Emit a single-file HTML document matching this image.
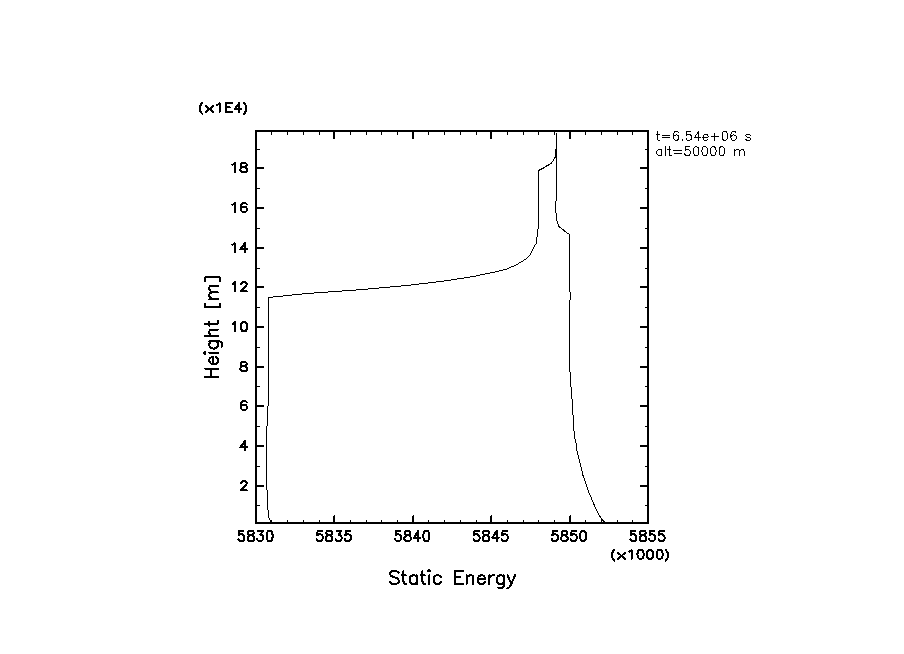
<!DOCTYPE html>
<html><head><meta charset="utf-8"><style>
html,body{margin:0;padding:0;background:#fff;width:904px;height:654px;overflow:hidden;font-family:"Liberation Sans",sans-serif;}
svg{display:block}
</style></head><body>
<svg width="904" height="654" viewBox="0 0 904 654">
<rect width="904" height="654" fill="#fff"/>
<g fill="#000"><rect x="255" y="130" width="394" height="2"/><rect x="255" y="522" width="394" height="2"/><rect x="255" y="130" width="2" height="394"/><rect x="647" y="130" width="2" height="394"/><rect x="271" y="520" width="1" height="2"/><rect x="271" y="132" width="1" height="3"/><rect x="287" y="520" width="1" height="2"/><rect x="287" y="132" width="1" height="3"/><rect x="303" y="520" width="1" height="2"/><rect x="303" y="132" width="1" height="3"/><rect x="319" y="520" width="1" height="2"/><rect x="319" y="132" width="1" height="3"/><rect x="333" y="516" width="1" height="6"/><rect x="334" y="515" width="1" height="7"/><rect x="333" y="132" width="2" height="7"/><rect x="350" y="520" width="1" height="2"/><rect x="350" y="132" width="1" height="3"/><rect x="366" y="520" width="1" height="2"/><rect x="366" y="132" width="1" height="3"/><rect x="381" y="520" width="1" height="2"/><rect x="381" y="132" width="1" height="3"/><rect x="397" y="520" width="1" height="2"/><rect x="397" y="132" width="1" height="3"/><rect x="412" y="516" width="1" height="6"/><rect x="413" y="515" width="1" height="7"/><rect x="412" y="132" width="2" height="7"/><rect x="428" y="520" width="1" height="2"/><rect x="428" y="132" width="1" height="3"/><rect x="444" y="520" width="1" height="2"/><rect x="444" y="132" width="1" height="3"/><rect x="460" y="520" width="1" height="2"/><rect x="460" y="132" width="1" height="3"/><rect x="476" y="520" width="1" height="2"/><rect x="476" y="132" width="1" height="3"/><rect x="490" y="516" width="1" height="6"/><rect x="491" y="515" width="1" height="7"/><rect x="490" y="132" width="2" height="7"/><rect x="507" y="520" width="1" height="2"/><rect x="507" y="132" width="1" height="3"/><rect x="523" y="520" width="1" height="2"/><rect x="523" y="132" width="1" height="3"/><rect x="538" y="520" width="1" height="2"/><rect x="538" y="132" width="1" height="3"/><rect x="554" y="520" width="1" height="2"/><rect x="554" y="132" width="1" height="3"/><rect x="569" y="516" width="1" height="6"/><rect x="570" y="515" width="1" height="7"/><rect x="569" y="132" width="2" height="7"/><rect x="585" y="520" width="1" height="2"/><rect x="585" y="132" width="1" height="3"/><rect x="601" y="520" width="1" height="2"/><rect x="601" y="132" width="1" height="3"/><rect x="617" y="520" width="1" height="2"/><rect x="617" y="132" width="1" height="3"/><rect x="632" y="520" width="1" height="2"/><rect x="632" y="132" width="1" height="3"/><rect x="257" y="167" width="7" height="2"/><rect x="640" y="167" width="7" height="2"/><rect x="257" y="207" width="7" height="2"/><rect x="640" y="207" width="7" height="2"/><rect x="257" y="247" width="7" height="2"/><rect x="640" y="247" width="7" height="2"/><rect x="257" y="286" width="7" height="2"/><rect x="640" y="286" width="7" height="2"/><rect x="257" y="326" width="7" height="2"/><rect x="640" y="326" width="7" height="2"/><rect x="257" y="366" width="7" height="2"/><rect x="640" y="366" width="7" height="2"/><rect x="257" y="405" width="7" height="2"/><rect x="640" y="405" width="7" height="2"/><rect x="257" y="445" width="7" height="2"/><rect x="640" y="445" width="7" height="2"/><rect x="257" y="485" width="7" height="2"/><rect x="640" y="485" width="7" height="2"/><rect x="257" y="149" width="3" height="1"/><rect x="645" y="149" width="2" height="1"/><rect x="257" y="188" width="3" height="1"/><rect x="645" y="188" width="2" height="1"/><rect x="257" y="228" width="3" height="1"/><rect x="645" y="228" width="2" height="1"/><rect x="257" y="268" width="3" height="1"/><rect x="645" y="268" width="2" height="1"/><rect x="257" y="307" width="3" height="1"/><rect x="645" y="307" width="2" height="1"/><rect x="257" y="347" width="3" height="1"/><rect x="645" y="347" width="2" height="1"/><rect x="257" y="386" width="3" height="1"/><rect x="645" y="386" width="2" height="1"/><rect x="257" y="426" width="3" height="1"/><rect x="645" y="426" width="2" height="1"/><rect x="257" y="466" width="3" height="1"/><rect x="645" y="466" width="2" height="1"/><rect x="257" y="505" width="3" height="1"/><rect x="645" y="505" width="2" height="1"/></g>
<g shape-rendering="crispEdges"><polyline points="270.50,521.50 270.50,520.50 269.50,519.50 269.50,518.50 268.50,517.50 268.50,510.50 267.50,509.50 267.50,490.50 266.50,489.50 266.50,426.50 267.50,425.50 267.50,406.50 268.50,405.50 268.50,297.50 272.50,297.50 273.50,296.50 282.50,296.50 283.50,295.50 291.50,295.50 292.50,294.50 301.50,294.50 302.50,293.50 313.50,293.50 314.50,292.50 327.50,292.50 328.50,291.50 341.50,291.50 342.50,290.50 355.50,290.50 356.50,289.50 367.50,289.50 368.50,288.50 378.50,288.50 379.50,287.50 389.50,287.50 390.50,286.50 400.50,286.50 401.50,285.50 410.50,285.50 411.50,284.50 418.50,284.50 419.50,283.50 427.50,283.50 428.50,282.50 435.50,282.50 436.50,281.50 443.50,281.50 444.50,280.50 450.50,280.50 451.50,279.50 456.50,279.50 457.50,278.50 463.50,278.50 464.50,277.50 469.50,277.50 470.50,276.50 475.50,276.50 476.50,275.50 479.50,275.50 480.50,274.50 484.50,274.50 485.50,273.50 489.50,273.50 490.50,272.50 494.50,272.50 495.50,271.50 498.50,271.50 499.50,270.50 502.50,270.50 503.50,269.50 506.50,269.50 507.50,268.50 508.50,268.50 509.50,267.50 510.50,267.50 511.50,266.50 513.50,266.50 514.50,265.50 515.50,265.50 516.50,264.50 517.50,264.50 518.50,263.50 519.50,262.50 520.50,262.50 521.50,261.50 522.50,261.50 523.50,260.50 524.50,259.50 525.50,259.50 526.50,258.50 527.50,257.50 528.50,256.50 529.50,255.50 530.50,254.50 530.50,253.50 531.50,252.50 531.50,251.50 532.50,250.50 532.50,249.50 533.50,248.50 533.50,247.50 534.50,246.50 534.50,245.50 535.50,244.50 536.50,243.50 536.50,237.50 537.50,236.50 537.50,229.50 538.50,228.50 538.50,170.50 540.50,169.50 542.50,168.50 544.50,167.50 546.50,166.00 549.50,164.50 551.50,163.00 552.50,161.50 553.50,160.00 554.50,158.50 555.50,156.50 555.50,149.50 556.50,148.50" fill="none" stroke="#000" stroke-width="1"/><polyline points="556.50,132.50 556.50,200.50 555.50,201.50 555.50,212.50 556.50,213.50 556.50,220.50 557.50,221.50 557.50,223.50 558.50,224.50 558.50,226.50 560.50,227.50 563.50,230.00 567.50,233.50 568.50,233.50 569.50,234.50 569.50,291.50 570.50,292.50 570.50,299.50 569.50,300.50 569.50,371.50 570.50,372.50 570.50,386.50 571.50,387.50 571.50,398.50 572.50,399.50 572.50,414.50 573.50,415.50 573.50,430.50 574.50,431.50 574.50,438.50 575.50,439.50 575.50,442.50 576.50,443.50 576.50,450.50 577.50,451.50 577.50,454.50 578.50,455.50 578.50,458.50 579.50,459.50 579.50,462.50 580.50,463.50 580.50,466.50 581.50,467.50 581.50,470.50 582.50,471.50 582.50,474.50 583.80,477.20 585.90,483.90 588.40,491.50 591.80,499.10 595.20,507.50 599.00,515.00 602.50,520.10 604.80,522.20" fill="none" stroke="#000" stroke-width="1"/></g>
<g fill="none" stroke="#000" stroke-linecap="round" stroke-linejoin="round" shape-rendering="crispEdges"><path d="M243.59 530.89 L239.21 530.89 L238.78 535.27 L239.21 534.78 L240.53 534.30 L241.84 534.30 L243.15 534.78 L244.02 535.75 L244.46 537.21 L244.46 538.18 L244.02 539.64 L243.15 540.61 L241.84 541.10 L240.53 541.10 L239.21 540.61 L238.78 540.13 L238.34 539.16 M249.86 530.89 L248.45 531.38 L247.98 532.35 L247.98 533.32 L248.45 534.30 L249.39 534.78 L251.27 535.27 L252.68 535.75 L253.62 536.73 L254.09 537.70 L254.09 539.16 L253.62 540.13 L253.15 540.61 L251.74 541.10 L249.86 541.10 L248.45 540.61 L247.98 540.13 L247.51 539.16 L247.51 537.70 L247.98 536.73 L248.92 535.75 L250.33 535.27 L252.21 534.78 L253.15 534.30 L253.62 533.32 L253.62 532.35 L253.15 531.38 L251.74 530.89 L249.86 530.89 M258.01 530.89 L262.82 530.89 L260.20 534.78 L261.51 534.78 L262.39 535.27 L262.82 535.75 L263.26 537.21 L263.26 538.18 L262.82 539.64 L261.95 540.61 L260.64 541.10 L259.33 541.10 L258.01 540.61 L257.58 540.13 L257.14 539.16 M269.16 530.89 L267.85 531.38 L266.98 532.84 L266.54 535.27 L266.54 536.73 L266.98 539.16 L267.85 540.61 L269.16 541.10 L270.04 541.10 L271.35 540.61 L272.22 539.16 L272.66 536.73 L272.66 535.27 L272.22 532.84 L271.35 531.38 L270.04 530.89 L269.16 530.89" stroke-width="2"/><path d="M321.99 530.89 L317.61 530.89 L317.18 535.27 L317.61 534.78 L318.93 534.30 L320.24 534.30 L321.55 534.78 L322.42 535.75 L322.86 537.21 L322.86 538.18 L322.42 539.64 L321.55 540.61 L320.24 541.10 L318.93 541.10 L317.61 540.61 L317.18 540.13 L316.74 539.16 M328.26 530.89 L326.85 531.38 L326.38 532.35 L326.38 533.32 L326.85 534.30 L327.79 534.78 L329.67 535.27 L331.08 535.75 L332.02 536.73 L332.49 537.70 L332.49 539.16 L332.02 540.13 L331.55 540.61 L330.14 541.10 L328.26 541.10 L326.85 540.61 L326.38 540.13 L325.91 539.16 L325.91 537.70 L326.38 536.73 L327.32 535.75 L328.73 535.27 L330.61 534.78 L331.55 534.30 L332.02 533.32 L332.02 532.35 L331.55 531.38 L330.14 530.89 L328.26 530.89 M336.41 530.89 L341.22 530.89 L338.60 534.78 L339.91 534.78 L340.79 535.27 L341.22 535.75 L341.66 537.21 L341.66 538.18 L341.22 539.64 L340.35 540.61 L339.04 541.10 L337.73 541.10 L336.41 540.61 L335.98 540.13 L335.54 539.16 M350.19 530.89 L345.81 530.89 L345.38 535.27 L345.81 534.78 L347.13 534.30 L348.44 534.30 L349.75 534.78 L350.62 535.75 L351.06 537.21 L351.06 538.18 L350.62 539.64 L349.75 540.61 L348.44 541.10 L347.13 541.10 L345.81 540.61 L345.38 540.13 L344.94 539.16" stroke-width="2"/><path d="M400.39 530.89 L396.01 530.89 L395.58 535.27 L396.01 534.78 L397.33 534.30 L398.64 534.30 L399.95 534.78 L400.82 535.75 L401.26 537.21 L401.26 538.18 L400.82 539.64 L399.95 540.61 L398.64 541.10 L397.33 541.10 L396.01 540.61 L395.58 540.13 L395.14 539.16 M406.66 530.89 L405.25 531.38 L404.78 532.35 L404.78 533.32 L405.25 534.30 L406.19 534.78 L408.07 535.27 L409.48 535.75 L410.42 536.73 L410.89 537.70 L410.89 539.16 L410.42 540.13 L409.95 540.61 L408.54 541.10 L406.66 541.10 L405.25 540.61 L404.78 540.13 L404.31 539.16 L404.31 537.70 L404.78 536.73 L405.72 535.75 L407.13 535.27 L409.01 534.78 L409.95 534.30 L410.42 533.32 L410.42 532.35 L409.95 531.38 L408.54 530.89 L406.66 530.89 M418.31 530.89 L413.94 537.70 L420.50 537.70 M418.31 530.89 L418.31 541.10 M425.96 530.89 L424.65 531.38 L423.78 532.84 L423.34 535.27 L423.34 536.73 L423.78 539.16 L424.65 540.61 L425.96 541.10 L426.84 541.10 L428.15 540.61 L429.02 539.16 L429.46 536.73 L429.46 535.27 L429.02 532.84 L428.15 531.38 L426.84 530.89 L425.96 530.89" stroke-width="2"/><path d="M478.79 530.89 L474.41 530.89 L473.98 535.27 L474.41 534.78 L475.73 534.30 L477.04 534.30 L478.35 534.78 L479.22 535.75 L479.66 537.21 L479.66 538.18 L479.22 539.64 L478.35 540.61 L477.04 541.10 L475.73 541.10 L474.41 540.61 L473.98 540.13 L473.54 539.16 M485.06 530.89 L483.65 531.38 L483.18 532.35 L483.18 533.32 L483.65 534.30 L484.59 534.78 L486.47 535.27 L487.88 535.75 L488.82 536.73 L489.29 537.70 L489.29 539.16 L488.82 540.13 L488.35 540.61 L486.94 541.10 L485.06 541.10 L483.65 540.61 L483.18 540.13 L482.71 539.16 L482.71 537.70 L483.18 536.73 L484.12 535.75 L485.53 535.27 L487.41 534.78 L488.35 534.30 L488.82 533.32 L488.82 532.35 L488.35 531.38 L486.94 530.89 L485.06 530.89 M496.71 530.89 L492.34 537.70 L498.90 537.70 M496.71 530.89 L496.71 541.10 M506.99 530.89 L502.61 530.89 L502.18 535.27 L502.61 534.78 L503.93 534.30 L505.24 534.30 L506.55 534.78 L507.42 535.75 L507.86 537.21 L507.86 538.18 L507.42 539.64 L506.55 540.61 L505.24 541.10 L503.93 541.10 L502.61 540.61 L502.18 540.13 L501.74 539.16" stroke-width="2"/><path d="M557.19 530.89 L552.81 530.89 L552.38 535.27 L552.81 534.78 L554.13 534.30 L555.44 534.30 L556.75 534.78 L557.62 535.75 L558.06 537.21 L558.06 538.18 L557.62 539.64 L556.75 540.61 L555.44 541.10 L554.13 541.10 L552.81 540.61 L552.38 540.13 L551.94 539.16 M563.46 530.89 L562.05 531.38 L561.58 532.35 L561.58 533.32 L562.05 534.30 L562.99 534.78 L564.87 535.27 L566.28 535.75 L567.22 536.73 L567.69 537.70 L567.69 539.16 L567.22 540.13 L566.75 540.61 L565.34 541.10 L563.46 541.10 L562.05 540.61 L561.58 540.13 L561.11 539.16 L561.11 537.70 L561.58 536.73 L562.52 535.75 L563.93 535.27 L565.81 534.78 L566.75 534.30 L567.22 533.32 L567.22 532.35 L566.75 531.38 L565.34 530.89 L563.46 530.89 M575.99 530.89 L571.61 530.89 L571.18 535.27 L571.61 534.78 L572.93 534.30 L574.24 534.30 L575.55 534.78 L576.42 535.75 L576.86 537.21 L576.86 538.18 L576.42 539.64 L575.55 540.61 L574.24 541.10 L572.93 541.10 L571.61 540.61 L571.18 540.13 L570.74 539.16 M582.76 530.89 L581.45 531.38 L580.58 532.84 L580.14 535.27 L580.14 536.73 L580.58 539.16 L581.45 540.61 L582.76 541.10 L583.64 541.10 L584.95 540.61 L585.82 539.16 L586.26 536.73 L586.26 535.27 L585.82 532.84 L584.95 531.38 L583.64 530.89 L582.76 530.89" stroke-width="2"/><path d="M635.59 530.89 L631.21 530.89 L630.78 535.27 L631.21 534.78 L632.53 534.30 L633.84 534.30 L635.15 534.78 L636.02 535.75 L636.46 537.21 L636.46 538.18 L636.02 539.64 L635.15 540.61 L633.84 541.10 L632.53 541.10 L631.21 540.61 L630.78 540.13 L630.34 539.16 M641.86 530.89 L640.45 531.38 L639.98 532.35 L639.98 533.32 L640.45 534.30 L641.39 534.78 L643.27 535.27 L644.68 535.75 L645.62 536.73 L646.09 537.70 L646.09 539.16 L645.62 540.13 L645.15 540.61 L643.74 541.10 L641.86 541.10 L640.45 540.61 L639.98 540.13 L639.51 539.16 L639.51 537.70 L639.98 536.73 L640.92 535.75 L642.33 535.27 L644.21 534.78 L645.15 534.30 L645.62 533.32 L645.62 532.35 L645.15 531.38 L643.74 530.89 L641.86 530.89 M654.39 530.89 L650.01 530.89 L649.58 535.27 L650.01 534.78 L651.33 534.30 L652.64 534.30 L653.95 534.78 L654.82 535.75 L655.26 537.21 L655.26 538.18 L654.82 539.64 L653.95 540.61 L652.64 541.10 L651.33 541.10 L650.01 540.61 L649.58 540.13 L649.14 539.16 M663.79 530.89 L659.41 530.89 L658.98 535.27 L659.41 534.78 L660.73 534.30 L662.04 534.30 L663.35 534.78 L664.22 535.75 L664.66 537.21 L664.66 538.18 L664.22 539.64 L663.35 540.61 L662.04 541.10 L660.73 541.10 L659.41 540.61 L658.98 540.13 L658.54 539.16" stroke-width="2"/><path d="M241.37 483.25 L241.37 482.81 L241.80 481.92 L242.24 481.47 L243.12 481.03 L244.86 481.03 L245.74 481.47 L246.18 481.92 L246.61 482.81 L246.61 483.70 L246.18 484.59 L245.30 485.92 L240.93 490.37 L247.05 490.37" stroke-width="2"/><path d="M244.86 441.03 L240.49 447.26 L247.05 447.26 M244.86 441.03 L244.86 450.37" stroke-width="2"/><path d="M246.58 402.36 L246.11 401.47 L244.70 401.03 L243.76 401.03 L242.35 401.47 L241.41 402.81 L240.94 405.03 L240.94 407.26 L241.41 409.04 L242.35 409.93 L243.76 410.37 L244.23 410.37 L245.64 409.93 L246.58 409.04 L247.05 407.70 L247.05 407.26 L246.58 405.92 L245.64 405.03 L244.23 404.59 L243.76 404.59 L242.35 405.03 L241.41 405.92 L240.94 407.26" stroke-width="2"/><path d="M242.82 362.03 L241.41 362.47 L240.94 363.36 L240.94 364.25 L241.41 365.14 L242.35 365.59 L244.23 366.03 L245.64 366.48 L246.58 367.37 L247.05 368.26 L247.05 369.59 L246.58 370.48 L246.11 370.93 L244.70 371.37 L242.82 371.37 L241.41 370.93 L240.94 370.48 L240.47 369.59 L240.47 368.26 L240.94 367.37 L241.88 366.48 L243.29 366.03 L245.17 365.59 L246.11 365.14 L246.58 364.25 L246.58 363.36 L246.11 362.47 L244.70 362.03 L242.82 362.03" stroke-width="2"/><path d="M232.71 323.81 L233.65 323.36 L235.06 322.03 L235.06 331.37 M243.55 322.03 L242.24 322.47 L241.37 323.81 L240.93 326.03 L240.93 327.37 L241.37 329.59 L242.24 330.93 L243.55 331.37 L244.43 331.37 L245.74 330.93 L246.61 329.59 L247.05 327.37 L247.05 326.03 L246.61 323.81 L245.74 322.47 L244.43 322.03 L243.55 322.03" stroke-width="2"/><path d="M232.71 283.81 L233.65 283.36 L235.06 282.03 L235.06 291.37 M241.37 284.25 L241.37 283.81 L241.80 282.92 L242.24 282.47 L243.12 282.03 L244.86 282.03 L245.74 282.47 L246.18 282.92 L246.61 283.81 L246.61 284.70 L246.18 285.59 L245.30 286.92 L240.93 291.37 L247.05 291.37" stroke-width="2"/><path d="M232.27 244.81 L233.21 244.36 L234.62 243.03 L234.62 252.37 M244.86 243.03 L240.49 249.26 L247.05 249.26 M244.86 243.03 L244.86 252.37" stroke-width="2"/><path d="M232.48 204.81 L233.42 204.36 L234.83 203.03 L234.83 212.37 M246.58 204.36 L246.11 203.47 L244.70 203.03 L243.76 203.03 L242.35 203.47 L241.41 204.81 L240.94 207.03 L240.94 209.26 L241.41 211.04 L242.35 211.93 L243.76 212.37 L244.23 212.37 L245.64 211.93 L246.58 211.04 L247.05 209.70 L247.05 209.26 L246.58 207.92 L245.64 207.03 L244.23 206.59 L243.76 206.59 L242.35 207.03 L241.41 207.92 L240.94 209.26" stroke-width="2"/><path d="M232.48 164.81 L233.42 164.36 L234.83 163.03 L234.83 172.37 M242.82 163.03 L241.41 163.47 L240.94 164.36 L240.94 165.25 L241.41 166.14 L242.35 166.59 L244.23 167.03 L245.64 167.48 L246.58 168.37 L247.05 169.26 L247.05 170.59 L246.58 171.48 L246.11 171.93 L244.70 172.37 L242.82 172.37 L241.41 171.93 L240.94 171.48 L240.47 170.59 L240.47 169.26 L240.94 168.37 L241.88 167.48 L243.29 167.03 L245.17 166.59 L246.11 166.14 L246.58 165.25 L246.58 164.36 L246.11 163.47 L244.70 163.03 L242.82 163.03" stroke-width="2"/><path d="M202.11 103.10 L201.48 103.77 L200.85 104.75 L200.22 106.06 L199.90 107.72 L199.90 109.03 L200.22 110.73 L200.85 112.04 L201.48 113.02 L202.11 113.70 M206.14 106.06 L212.86 112.00 M212.86 106.06 L206.14 112.00 M217.18 104.79 L218.14 104.37 L219.58 103.10 L219.58 112.00 M225.82 103.10 L225.82 112.00 M225.82 103.10 L232.06 103.10 M225.82 107.34 L229.66 107.34 M225.82 112.00 L232.06 112.00 M239.16 103.10 L234.70 109.03 L241.39 109.03 M239.16 103.10 L239.16 112.00 M244.06 103.10 L244.69 103.77 L245.32 104.75 L245.95 106.06 L246.27 107.72 L246.27 109.03 L245.95 110.73 L245.32 112.04 L244.69 113.02 L244.06 113.70" stroke-width="2"/><path d="M614.19 550.00 L613.57 550.67 L612.94 551.65 L612.32 552.96 L612.00 554.62 L612.00 555.93 L612.32 557.63 L612.94 558.94 L613.57 559.92 L614.19 560.60 M618.19 552.96 L624.86 558.90 M624.86 552.96 L618.19 558.90 M629.14 551.69 L630.09 551.27 L631.52 550.00 L631.52 558.90 M640.12 550.00 L638.79 550.42 L637.91 551.69 L637.47 553.81 L637.47 555.08 L637.91 557.20 L638.79 558.48 L640.12 558.90 L641.01 558.90 L642.33 558.48 L643.22 557.20 L643.66 555.08 L643.66 553.81 L643.22 551.69 L642.33 550.42 L641.01 550.00 L640.12 550.00 M649.64 550.00 L648.31 550.42 L647.43 551.69 L646.99 553.81 L646.99 555.08 L647.43 557.20 L648.31 558.48 L649.64 558.90 L650.53 558.90 L651.85 558.48 L652.74 557.20 L653.18 555.08 L653.18 553.81 L652.74 551.69 L651.85 550.42 L650.53 550.00 L649.64 550.00 M659.16 550.00 L657.83 550.42 L656.95 551.69 L656.51 553.81 L656.51 555.08 L656.95 557.20 L657.83 558.48 L659.16 558.90 L660.05 558.90 L661.37 558.48 L662.26 557.20 L662.70 555.08 L662.70 553.81 L662.26 551.69 L661.37 550.42 L660.05 550.00 L659.16 550.00 M665.79 550.00 L666.42 550.67 L667.04 551.65 L667.67 552.96 L667.98 554.62 L667.98 555.93 L667.67 557.63 L667.04 558.94 L666.42 559.92 L665.79 560.60" stroke-width="2"/><path d="M398.58 572.86 L397.35 571.62 L395.51 571.00 L393.06 571.00 L391.23 571.62 L390.00 572.86 L390.00 574.10 L390.61 575.33 L391.23 575.95 L392.45 576.57 L396.13 577.81 L397.35 578.43 L397.97 579.05 L398.58 580.29 L398.58 582.14 L397.35 583.38 L395.51 584.00 L393.06 584.00 L391.23 583.38 L390.00 582.14 M403.48 571.00 L403.48 581.52 L404.09 583.38 L405.32 584.00 L406.54 584.00 M401.64 575.33 L405.93 575.33 M416.96 575.33 L416.96 584.00 M416.96 577.19 L415.74 575.95 L414.51 575.33 L412.67 575.33 L411.45 575.95 L410.22 577.19 L409.61 579.05 L409.61 580.29 L410.22 582.14 L411.45 583.38 L412.67 584.00 L414.51 584.00 L415.74 583.38 L416.96 582.14 M422.48 571.00 L422.48 581.52 L423.09 583.38 L424.31 584.00 L425.54 584.00 M420.64 575.33 L424.93 575.33 M428.30 571.00 L429.22 570.07 L430.13 571.00 L428.30 571.00 M429.22 575.33 L429.22 584.00 M440.86 577.19 L439.63 575.95 L438.41 575.33 L436.57 575.33 L435.34 575.95 L434.12 577.19 L433.50 579.05 L433.50 580.29 L434.12 582.14 L435.34 583.38 L436.57 584.00 L438.41 584.00 L439.63 583.38 L440.86 582.14 M454.95 571.00 L454.95 584.00 M454.95 571.00 L462.92 571.00 M454.95 577.19 L459.85 577.19 M454.95 584.00 L462.92 584.00 M466.59 575.33 L466.59 584.00 M466.59 577.81 L468.43 575.95 L469.66 575.33 L471.50 575.33 L472.72 575.95 L473.33 577.81 L473.33 584.00 M477.62 579.05 L484.98 579.05 L484.98 577.81 L484.36 576.57 L483.75 575.95 L482.52 575.33 L480.69 575.33 L479.46 575.95 L478.24 577.19 L477.62 579.05 L477.62 580.29 L478.24 582.14 L479.46 583.38 L480.69 584.00 L482.52 584.00 L483.75 583.38 L484.98 582.14 M489.26 575.33 L489.26 584.00 M489.26 579.05 L489.88 577.19 L491.10 575.95 L492.33 575.33 L494.17 575.33 M503.97 575.33 L503.97 585.24 L503.36 587.10 L502.75 587.71 L501.52 588.33 L499.68 588.33 L498.46 587.71 M503.97 577.19 L502.75 575.95 L501.52 575.33 L499.68 575.33 L498.46 575.95 L497.23 577.19 L496.62 579.05 L496.62 580.29 L497.23 582.14 L498.46 583.38 L499.68 584.00 L501.52 584.00 L502.75 583.38 L503.97 582.14 M507.65 575.33 L511.32 584.00 M515.00 575.33 L511.32 584.00 L510.10 586.48 L508.87 587.71 L507.65 588.33 L507.03 588.33" stroke-width="2"/><path d="M205.00 377.20 L218.10 377.20 M205.00 368.66 L218.10 368.66 M211.24 377.20 L211.24 368.66 M213.11 364.39 L213.11 357.07 L211.86 357.07 L210.61 357.68 L209.99 358.29 L209.36 359.51 L209.36 361.34 L209.99 362.56 L211.24 363.78 L213.11 364.39 L214.36 364.39 L216.23 363.78 L217.48 362.56 L218.10 361.34 L218.10 359.51 L217.48 358.29 L216.23 357.07 M205.00 353.71 L204.06 352.80 L205.00 351.88 L205.00 353.71 M209.36 352.80 L218.10 352.80 M209.36 341.21 L219.35 341.21 L221.22 341.82 L221.84 342.43 L222.47 343.65 L222.47 345.48 L221.84 346.70 M211.24 341.21 L209.99 342.43 L209.36 343.65 L209.36 345.48 L209.99 346.70 L211.24 347.92 L213.11 348.53 L214.36 348.53 L216.23 347.92 L217.48 346.70 L218.10 345.48 L218.10 343.65 L217.48 342.43 L216.23 341.21 M205.00 336.33 L218.10 336.33 M211.86 336.33 L209.99 334.50 L209.36 333.28 L209.36 331.45 L209.99 330.23 L211.86 329.62 L218.10 329.62 M205.00 324.13 L215.60 324.13 L217.48 323.52 L218.10 322.30 L218.10 321.08 M209.36 325.96 L209.36 321.69 M205.00 307.36 L219.97 307.36 M205.00 307.36 L205.00 303.39 M219.97 307.36 L219.97 303.39 M209.36 299.12 L218.10 299.12 M211.86 299.12 L209.99 297.29 L209.36 296.07 L209.36 294.24 L209.99 293.02 L211.86 292.41 L218.10 292.41 M211.86 292.41 L209.99 290.58 L209.36 289.36 L209.36 287.53 L209.99 286.31 L211.86 285.70 L218.10 285.70 M205.00 277.46 L219.97 277.46 M205.00 281.43 L205.00 277.46 M219.97 281.43 L219.97 277.46" stroke-width="2"/><path d="M657.58 131.50 L657.58 138.70 L658.01 139.98 L658.87 140.40 L659.73 140.40 M656.30 134.47 L659.30 134.47 M662.29 135.31 L670.00 135.31 M662.29 137.86 L670.00 137.86 M678.57 132.77 L678.14 131.92 L676.85 131.50 L676.00 131.50 L674.71 131.92 L673.86 133.20 L673.43 135.31 L673.43 137.43 L673.86 139.13 L674.71 139.98 L676.00 140.40 L676.42 140.40 L677.71 139.98 L678.57 139.13 L678.99 137.86 L678.99 137.43 L678.57 136.16 L677.71 135.31 L676.42 134.89 L676.00 134.89 L674.71 135.31 L673.86 136.16 L673.43 137.43 M682.42 139.55 L681.99 139.98 L682.42 140.40 L682.85 139.98 L682.42 139.55 M690.83 131.50 L686.85 131.50 L686.45 135.31 L686.85 134.89 L688.05 134.47 L689.24 134.47 L690.43 134.89 L691.23 135.74 L691.63 137.01 L691.63 137.86 L691.23 139.13 L690.43 139.98 L689.24 140.40 L688.05 140.40 L686.85 139.98 L686.45 139.55 L686.05 138.70 M698.60 131.50 L694.62 137.43 L700.59 137.43 M698.60 131.50 L698.60 140.40 M702.97 137.01 L708.11 137.01 L708.11 136.16 L707.68 135.31 L707.25 134.89 L706.40 134.47 L705.11 134.47 L704.26 134.89 L703.40 135.74 L702.97 137.01 L702.97 137.86 L703.40 139.13 L704.26 139.98 L705.11 140.40 L706.40 140.40 L707.25 139.98 L708.11 139.13 M714.96 132.77 L714.96 140.40 M711.11 136.59 L718.81 136.59 M724.41 131.50 L723.22 131.92 L722.42 133.20 L722.02 135.31 L722.02 136.59 L722.42 138.70 L723.22 139.98 L724.41 140.40 L725.21 140.40 L726.40 139.98 L727.20 138.70 L727.60 136.59 L727.60 135.31 L727.20 133.20 L726.40 131.92 L725.21 131.50 L724.41 131.50 M735.94 132.77 L735.51 131.92 L734.23 131.50 L733.37 131.50 L732.09 131.92 L731.23 133.20 L730.80 135.31 L730.80 137.43 L731.23 139.13 L732.09 139.98 L733.37 140.40 L733.80 140.40 L735.09 139.98 L735.94 139.13 L736.37 137.86 L736.37 137.43 L735.94 136.16 L735.09 135.31 L733.80 134.89 L733.37 134.89 L732.09 135.31 L731.23 136.16 L730.80 137.43 M750.50 135.74 L750.07 134.89 L748.79 134.47 L747.50 134.47 L746.22 134.89 L745.79 135.74 L746.22 136.59 L747.07 137.01 L749.22 137.43 L750.07 137.86 L750.50 138.70 L750.50 139.13 L750.07 139.98 L748.79 140.40 L747.50 140.40 L746.22 139.98 L745.79 139.13" stroke-width="1"/><path d="M661.87 149.67 L661.87 155.60 M661.87 150.94 L661.01 150.09 L660.15 149.67 L658.87 149.67 L658.01 150.09 L657.16 150.94 L656.73 152.21 L656.73 153.06 L657.16 154.33 L658.01 155.18 L658.87 155.60 L660.15 155.60 L661.01 155.18 L661.87 154.33 M665.29 146.70 L665.29 155.60 M669.15 146.70 L669.15 153.90 L669.57 155.18 L670.43 155.60 L671.29 155.60 M667.86 149.67 L670.86 149.67 M673.86 150.51 L681.56 150.51 M673.86 153.06 L681.56 153.06 M689.55 146.70 L685.57 146.70 L685.17 150.51 L685.57 150.09 L686.76 149.67 L687.96 149.67 L689.15 150.09 L689.95 150.94 L690.34 152.21 L690.34 153.06 L689.95 154.33 L689.15 155.18 L687.96 155.60 L686.76 155.60 L685.57 155.18 L685.17 154.75 L684.77 153.90 M695.72 146.70 L694.53 147.12 L693.73 148.40 L693.33 150.51 L693.33 151.79 L693.73 153.90 L694.53 155.18 L695.72 155.60 L696.52 155.60 L697.71 155.18 L698.51 153.90 L698.91 151.79 L698.91 150.51 L698.51 148.40 L697.71 147.12 L696.52 146.70 L695.72 146.70 M704.29 146.70 L703.09 147.12 L702.30 148.40 L701.90 150.51 L701.90 151.79 L702.30 153.90 L703.09 155.18 L704.29 155.60 L705.08 155.60 L706.28 155.18 L707.07 153.90 L707.47 151.79 L707.47 150.51 L707.07 148.40 L706.28 147.12 L705.08 146.70 L704.29 146.70 M712.85 146.70 L711.66 147.12 L710.86 148.40 L710.46 150.51 L710.46 151.79 L710.86 153.90 L711.66 155.18 L712.85 155.60 L713.65 155.60 L714.84 155.18 L715.64 153.90 L716.04 151.79 L716.04 150.51 L715.64 148.40 L714.84 147.12 L713.65 146.70 L712.85 146.70 M721.41 146.70 L720.22 147.12 L719.42 148.40 L719.02 150.51 L719.02 151.79 L719.42 153.90 L720.22 155.18 L721.41 155.60 L722.21 155.60 L723.40 155.18 L724.20 153.90 L724.60 151.79 L724.60 150.51 L724.20 148.40 L723.40 147.12 L722.21 146.70 L721.41 146.70 M734.66 149.67 L734.66 155.60 M734.66 151.36 L735.94 150.09 L736.80 149.67 L738.08 149.67 L738.94 150.09 L739.37 151.36 L739.37 155.60 M739.37 151.36 L740.65 150.09 L741.51 149.67 L742.79 149.67 L743.65 150.09 L744.08 151.36 L744.08 155.60" stroke-width="1"/></g>
</svg>
</body></html>
